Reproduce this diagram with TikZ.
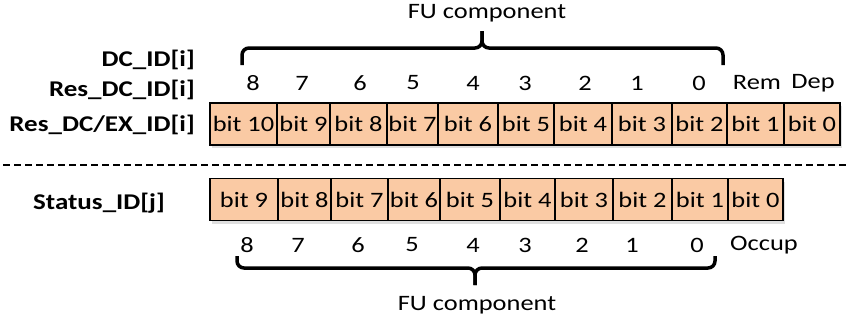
\documentclass[tikz,border=0pt]{standalone}
\usepackage{fontspec}
\setmainfont{Carlito}[FakeStretch=1.2]
\usetikzlibrary{shadows}
\definecolor{bitfill}{RGB}{250,202,164}

\begin{document}
\begin{tikzpicture}[x=1pt,y=-1pt,font=\fontsize{22}{26}\selectfont,
    bitbox/.style={draw=black,line width=1.3pt,fill=bitfill,minimum height=42pt,inner sep=0pt,
      drop shadow={opacity=0.25,shadow xshift=2pt,shadow yshift=-3pt}},
    idlabel/.style={anchor=east,inner sep=0pt,font=\bfseries\fontsize{22.5}{26}\selectfont},
    bitnum/.style={inner sep=0pt},
    fubrace/.style={line width=3.5pt,rounded corners=7pt},
    sepline/.style={line width=1.6pt,dash pattern=on 7pt off 4pt}]
  \useasboundingbox (0,0) rectangle (850,325);

  % register labels
  \node [idlabel] (dcid) at (195,60) {DC\_ID[i]};
  \node [idlabel] (resdcid) at (195,90) {Res\_DC\_ID[i]};
  \node [idlabel] (resexid) at (195,125) {Res\_DC/EX\_ID[i]};
  \node [idlabel] (statid) at (165,203) {Status\_ID[j]};

  % upper register
  \node (fuup) at (487,13) {FU component};
  \draw [fubrace] (242,65) |- (482,48) -- (482,31);
  \draw [fubrace] (482,31) -- (482,48) -| (723,65);
  \foreach \x/\n in {253/8,302/7,360/6,413/5,473/4,525/3,585/2,637/1,699/0}
    \node [bitnum] (u\n) at (\x,83) {\n};
  \node [bitnum] (rem) at (757,83) {Rem};
  \node [bitnum] (dep) at (813,83) {Dep};
  \foreach \l/\r/\n in {210/277/10,277/330/9,330/387/8,387/438/7,438/498/6,498/554/5,
      554/612/4,612/672/3,672/727/2,727/784/1,784/840/0}
    \node [bitbox,minimum width=\r-\l] (t\n) at ({(\l+\r)/2},124) {bit \n};

  \draw [sepline] (3,165) -- (850,165);

  % status register
  \foreach \l/\r/\n in {210/278/9,278/331/8,331/388/7,388/440/6,440/500/5,500/555/4,
      555/613/3,613/672/2,672/728/1,728/783/0}
    \node [bitbox,minimum width=\r-\l] (s\n) at ({(\l+\r)/2},199.5) {bit \n};
  \foreach \x/\n in {247/8,298/7,358/6,412/5,473/4,525/3,582/2,632/1,697/0}
    \node [bitnum] (d\n) at (\x,245) {\n};
  \node [bitnum] (occup) at (764,245) {Occup};
  \draw [fubrace] (237,256) |- (475,268) -- (475,285);
  \draw [fubrace] (475,285) -- (475,268) -| (715,256);
  \node (fudown) at (477,305) {FU component};
\end{tikzpicture}
\end{document}
